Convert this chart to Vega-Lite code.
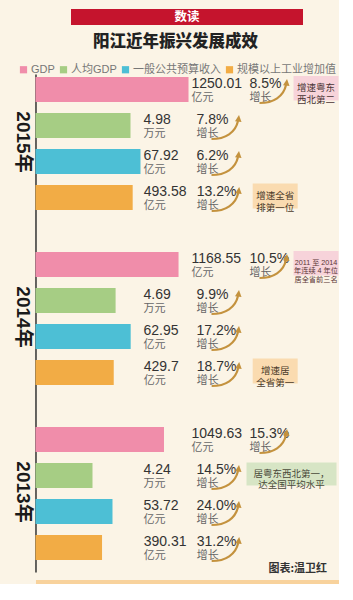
{
  "$schema": "https://vega.github.io/schema/vega-lite/v6.json",
  "background": "#FBF4E6",
  "padding": {"left": 12, "top": 9, "right": 0, "bottom": 0},
  "config": {"font": "Liberation Sans, Noto Sans CJK SC", "view": {"stroke": null}},
  "spacing": 8,
  "center": true,
  "vconcat": [
    {
      "width": 232,
      "height": 16,
      "view": {"fill": "#C5142D", "stroke": null},
      "data": {"values": [{"label": "数读"}]},
      "mark": {"type": "text", "color": "#FFFFFF", "fontSize": 12.5, "fontWeight": "bold", "font": "Noto Sans CJK SC"},
      "encoding": {"text": {"field": "label", "type": "nominal"}}
    },
    {
      "width": 303,
      "height": 498,
      "title": {"text": "阳江近年振兴发展成效", "fontSize": 16.5, "fontWeight": 900, "color": "#222222", "font": "Noto Sans CJK SC", "anchor": "middle", "frame": "bounds", "offset": 24},
      "data": {"values": [
        {"year": "2015年", "cat": "GDP", "value": 1250.01, "unit": "亿元", "pct": "8.5%", "note": "增速粤东\n西北第二"},
        {"year": "2015年", "cat": "人均GDP", "value": 4.98, "unit": "万元", "pct": "7.8%"},
        {"year": "2015年", "cat": "一般公共预算收入", "value": 67.92, "unit": "亿元", "pct": "6.2%"},
        {"year": "2015年", "cat": "规模以上工业增加值", "value": 493.58, "unit": "亿元", "pct": "13.2%", "note": "增速全省\n排第一位"},
        {"year": "2014年", "cat": "GDP", "value": 1168.55, "unit": "亿元", "pct": "10.5%", "note": "2011 至 2014\n年连续 4 年位\n居全省前三名"},
        {"year": "2014年", "cat": "人均GDP", "value": 4.69, "unit": "万元", "pct": "9.9%"},
        {"year": "2014年", "cat": "一般公共预算收入", "value": 62.95, "unit": "亿元", "pct": "17.2%"},
        {"year": "2014年", "cat": "规模以上工业增加值", "value": 429.7, "unit": "亿元", "pct": "18.7%", "note": "增速居\n全省第一"},
        {"year": "2013年", "cat": "GDP", "value": 1049.63, "unit": "亿元", "pct": "15.3%"},
        {"year": "2013年", "cat": "人均GDP", "value": 4.24, "unit": "万元", "pct": "14.5%", "note": "居粤东西北第一，\n达全国平均水平"},
        {"year": "2013年", "cat": "一般公共预算收入", "value": 53.72, "unit": "亿元", "pct": "24.0%"},
        {"year": "2013年", "cat": "规模以上工业增加值", "value": 390.31, "unit": "亿元", "pct": "31.2%"}
      ]},
      "transform": [{"joinaggregate": [{"op": "max", "field": "value", "as": "maxv"}], "groupby": ["cat"]}],
      "encoding": {
        "y": {"field": "year", "type": "nominal", "sort": ["2015年", "2014年", "2013年"],
              "scale": {"paddingInner": 0.177, "paddingOuter": 0.0114, "align": 0},
              "axis": {"title": null, "ticks": false, "grid": false, "labelAngle": 90, "labelAlign": "center", "labelBaseline": "top", "labelFontSize": 19, "labelFontWeight": "bold", "labelColor": "#1a1a1a", "labelPadding": 4, "labelOffset": -4, "domainColor": "#333333", "domainWidth": 1.5}},
        "yOffset": {"field": "cat", "type": "nominal", "sort": ["GDP", "人均GDP", "一般公共预算收入", "规模以上工业增加值"],
              "scale": {"paddingInner": 0.306, "paddingOuter": 0.153, "align": 0.273}}
      },
      "layer": [
        {
          "transform": [{"filter": "datum.cat === 'GDP'"}],
          "layer": [
            {"mark": {"type": "bar"},
             "encoding": {
               "x": {"field": "value", "type": "quantitative", "scale": {"domain": [0, 2475], "nice": false, "zero": true},
                     "axis": {"orient": "bottom", "labels": false, "ticks": false, "grid": false, "domain": true, "domainColor": "#F8D29C", "domainWidth": 9, "offset": 12, "title": "图表:温卫红", "titleFontSize": 11, "titleFontWeight": "bold", "titleColor": "#333333", "titleX": 291, "titleY": -13, "titleAlign": "right", "titleBaseline": "alphabetic", "titleFont": "Noto Sans CJK SC"}},
               "color": {"field": "cat", "type": "nominal", "scale": {"domain": ["GDP", "人均GDP", "一般公共预算收入", "规模以上工业增加值"], "range": ["#F08DAA", "#A6CD84", "#4DBFD5", "#F2AC45"]},
                         "legend": {"title": null, "orient": "none", "legendX": -17, "legendY": 55, "direction": "horizontal", "symbolType": "square", "symbolSize": 52, "symbolStrokeWidth": 0, "labelFontSize": 11, "labelColor": "#777777", "columnPadding": 3, "labelOffset": 2}}
             }},
            {"mark": {"type": "text", "align": "left", "baseline": "alphabetic", "dx": 3, "dy": -1.5, "fontSize": 14, "color": "#333333"},
             "encoding": {"x": {"field": "maxv", "type": "quantitative", "axis": {"orient": "bottom", "labels": false, "ticks": false, "grid": false, "domain": true, "domainColor": "#F8D29C", "domainWidth": 9, "offset": 12, "title": "图表:温卫红", "titleFontSize": 11, "titleFontWeight": "bold", "titleColor": "#333333", "titleX": 291, "titleY": -13, "titleAlign": "right", "titleBaseline": "alphabetic", "titleFont": "Noto Sans CJK SC"}}, "text": {"field": "value", "type": "nominal"}}},
            {"mark": {"type": "text", "align": "left", "baseline": "alphabetic", "dx": 3, "dy": 11.5, "fontSize": 11, "color": "#666666"},
             "encoding": {"x": {"field": "maxv", "type": "quantitative", "axis": {"orient": "bottom", "labels": false, "ticks": false, "grid": false, "domain": true, "domainColor": "#F8D29C", "domainWidth": 9, "offset": 12, "title": "图表:温卫红", "titleFontSize": 11, "titleFontWeight": "bold", "titleColor": "#333333", "titleX": 291, "titleY": -13, "titleAlign": "right", "titleBaseline": "alphabetic", "titleFont": "Noto Sans CJK SC"}}, "text": {"field": "unit", "type": "nominal"}}},
            {"mark": {"type": "text", "align": "left", "baseline": "alphabetic", "dx": 61, "dy": -1.5, "fontSize": 14, "color": "#333333"},
             "encoding": {"x": {"field": "maxv", "type": "quantitative", "axis": {"orient": "bottom", "labels": false, "ticks": false, "grid": false, "domain": true, "domainColor": "#F8D29C", "domainWidth": 9, "offset": 12, "title": "图表:温卫红", "titleFontSize": 11, "titleFontWeight": "bold", "titleColor": "#333333", "titleX": 291, "titleY": -13, "titleAlign": "right", "titleBaseline": "alphabetic", "titleFont": "Noto Sans CJK SC"}}, "text": {"field": "pct", "type": "nominal"}}},
            {"mark": {"type": "text", "align": "left", "baseline": "alphabetic", "dx": 61, "dy": 11.5, "fontSize": 11, "color": "#666666"},
             "encoding": {"x": {"field": "maxv", "type": "quantitative", "axis": {"orient": "bottom", "labels": false, "ticks": false, "grid": false, "domain": true, "domainColor": "#F8D29C", "domainWidth": 9, "offset": 12, "title": "图表:温卫红", "titleFontSize": 11, "titleFontWeight": "bold", "titleColor": "#333333", "titleX": 291, "titleY": -13, "titleAlign": "right", "titleBaseline": "alphabetic", "titleFont": "Noto Sans CJK SC"}}, "text": {"value": "增长"}}},
            {"mark": {"type": "point", "shape": "M 7.1 1.35 C 8.5 1.35 9.5 0.7 9.75 -0.45", "size": 400, "filled": false, "stroke": "#C4923E", "strokeWidth": 2.2, "opacity": 1},
             "encoding": {"x": {"field": "maxv", "type": "quantitative", "axis": {"orient": "bottom", "labels": false, "ticks": false, "grid": false, "domain": true, "domainColor": "#F8D29C", "domainWidth": 9, "offset": 12, "title": "图表:温卫红", "titleFontSize": 11, "titleFontWeight": "bold", "titleColor": "#333333", "titleX": 291, "titleY": -13, "titleAlign": "right", "titleBaseline": "alphabetic", "titleFont": "Noto Sans CJK SC"}}}},
            {"mark": {"type": "point", "shape": "M 9.85 -1.05 L 10.1 -0.35 L 9.45 -0.42 Z", "size": 400, "filled": true, "fill": "#C4923E", "strokeWidth": 0, "opacity": 1},
             "encoding": {"x": {"field": "maxv", "type": "quantitative", "axis": {"orient": "bottom", "labels": false, "ticks": false, "grid": false, "domain": true, "domainColor": "#F8D29C", "domainWidth": 9, "offset": 12, "title": "图表:温卫红", "titleFontSize": 11, "titleFontWeight": "bold", "titleColor": "#333333", "titleX": 291, "titleY": -13, "titleAlign": "right", "titleBaseline": "alphabetic", "titleFont": "Noto Sans CJK SC"}}}},
            {"transform": [{"filter": "datum.note != null"}],
             "mark": {"type": "point", "shape": "M 10.5 -1.35 H 15.0 V 1.1 H 10.5 Z", "size": 400, "filled": true, "fill": "#F7D3DA", "strokeWidth": 0, "opacity": 1},
             "encoding": {"x": {"field": "maxv", "type": "quantitative", "axis": {"orient": "bottom", "labels": false, "ticks": false, "grid": false, "domain": true, "domainColor": "#F8D29C", "domainWidth": 9, "offset": 12, "title": "图表:温卫红", "titleFontSize": 11, "titleFontWeight": "bold", "titleColor": "#333333", "titleX": 291, "titleY": -13, "titleAlign": "right", "titleBaseline": "alphabetic", "titleFont": "Noto Sans CJK SC"}}}},
            {"transform": [{"filter": "datum.year === '2015年'"}, {"filter": "datum.note != null"}],
             "mark": {"type": "text", "align": "center", "baseline": "middle", "dx": 127.5, "dy": -1.2, "fontSize": 9.5, "lineHeight": 11.5, "lineBreak": "\n", "color": "#4a3535"},
             "encoding": {"x": {"field": "maxv", "type": "quantitative", "axis": {"orient": "bottom", "labels": false, "ticks": false, "grid": false, "domain": true, "domainColor": "#F8D29C", "domainWidth": 9, "offset": 12, "title": "图表:温卫红", "titleFontSize": 11, "titleFontWeight": "bold", "titleColor": "#333333", "titleX": 291, "titleY": -13, "titleAlign": "right", "titleBaseline": "alphabetic", "titleFont": "Noto Sans CJK SC"}}, "text": {"field": "note", "type": "nominal"}}},
            {"transform": [{"filter": "datum.year === '2014年'"}, {"filter": "datum.note != null"}],
             "mark": {"type": "text", "align": "center", "baseline": "middle", "dx": 127.5, "dy": -1.2, "fontSize": 7.2, "lineHeight": 8.2, "lineBreak": "\n", "color": "#5a3535"},
             "encoding": {"x": {"field": "maxv", "type": "quantitative", "axis": {"orient": "bottom", "labels": false, "ticks": false, "grid": false, "domain": true, "domainColor": "#F8D29C", "domainWidth": 9, "offset": 12, "title": "图表:温卫红", "titleFontSize": 11, "titleFontWeight": "bold", "titleColor": "#333333", "titleX": 291, "titleY": -13, "titleAlign": "right", "titleBaseline": "alphabetic", "titleFont": "Noto Sans CJK SC"}}, "text": {"field": "note", "type": "nominal"}}}
          ]
        },
        {
          "transform": [{"filter": "datum.cat === '人均GDP'"}],
          "layer": [
            {"mark": {"type": "bar"},
             "encoding": {
               "x": {"field": "value", "type": "quantitative", "scale": {"domain": [3.13, 9.03], "nice": false, "zero": false, "clamp": true}, "axis": null},
               "color": {"field": "cat", "type": "nominal", "scale": {"domain": ["GDP", "人均GDP", "一般公共预算收入", "规模以上工业增加值"], "range": ["#F08DAA", "#A6CD84", "#4DBFD5", "#F2AC45"]},
                         "legend": {"title": null, "orient": "none", "legendX": -17, "legendY": 55, "direction": "horizontal", "symbolType": "square", "symbolSize": 52, "symbolStrokeWidth": 0, "labelFontSize": 11, "labelColor": "#777777", "columnPadding": 3, "labelOffset": 2}}
             }},
            {"mark": {"type": "text", "align": "left", "baseline": "alphabetic", "dx": 13, "dy": -1.5, "fontSize": 14, "color": "#333333"},
             "encoding": {"x": {"field": "maxv", "type": "quantitative", "axis": null}, "text": {"field": "value", "type": "nominal"}}},
            {"mark": {"type": "text", "align": "left", "baseline": "alphabetic", "dx": 13, "dy": 11.5, "fontSize": 11, "color": "#666666"},
             "encoding": {"x": {"field": "maxv", "type": "quantitative", "axis": null}, "text": {"field": "unit", "type": "nominal"}}},
            {"mark": {"type": "text", "align": "left", "baseline": "alphabetic", "dx": 66, "dy": -1.5, "fontSize": 14, "color": "#333333"},
             "encoding": {"x": {"field": "maxv", "type": "quantitative", "axis": null}, "text": {"field": "pct", "type": "nominal"}}},
            {"mark": {"type": "text", "align": "left", "baseline": "alphabetic", "dx": 66, "dy": 11.5, "fontSize": 11, "color": "#666666"},
             "encoding": {"x": {"field": "maxv", "type": "quantitative", "axis": null}, "text": {"value": "增长"}}},
            {"mark": {"type": "point", "shape": "M 8.1 1.35 C 9.5 1.35 10.5 0.7 10.75 -0.45", "size": 400, "filled": false, "stroke": "#C4923E", "strokeWidth": 2.2, "opacity": 1},
             "encoding": {"x": {"field": "maxv", "type": "quantitative", "axis": null}}},
            {"mark": {"type": "point", "shape": "M 10.85 -1.05 L 11.1 -0.35 L 10.45 -0.42 Z", "size": 400, "filled": true, "fill": "#C4923E", "strokeWidth": 0, "opacity": 1},
             "encoding": {"x": {"field": "maxv", "type": "quantitative", "axis": null}}},
            {"transform": [{"filter": "datum.note != null"}],
             "mark": {"type": "point", "shape": "M 11.6 -1.3 H 20.6 V 1.0 H 11.6 Z", "size": 400, "filled": true, "fill": "#D7E5C5", "strokeWidth": 0, "opacity": 1},
             "encoding": {"x": {"field": "maxv", "type": "quantitative", "axis": null}}},
            {"transform": [{"filter": "datum.note != null"}],
             "mark": {"type": "text", "align": "center", "baseline": "middle", "dx": 161, "dy": -1.5, "fontSize": 9.5, "lineHeight": 11, "lineBreak": "\n", "color": "#4a4a3a"},
             "encoding": {"x": {"field": "maxv", "type": "quantitative", "axis": null}, "text": {"field": "note", "type": "nominal"}}}
          ]
        },
        {
          "transform": [{"filter": "datum.cat === '一般公共预算收入'"}],
          "layer": [
            {"mark": {"type": "bar"},
             "encoding": {
               "x": {"field": "value", "type": "quantitative", "scale": {"domain": [14.67, 168.32], "nice": false, "zero": false, "clamp": true}, "axis": null},
               "color": {"field": "cat", "type": "nominal", "scale": {"domain": ["GDP", "人均GDP", "一般公共预算收入", "规模以上工业增加值"], "range": ["#F08DAA", "#A6CD84", "#4DBFD5", "#F2AC45"]},
                         "legend": {"title": null, "orient": "none", "legendX": -17, "legendY": 55, "direction": "horizontal", "symbolType": "square", "symbolSize": 52, "symbolStrokeWidth": 0, "labelFontSize": 11, "labelColor": "#777777", "columnPadding": 3, "labelOffset": 2}}
             }},
            {"mark": {"type": "text", "align": "left", "baseline": "alphabetic", "dx": 3, "dy": -1.5, "fontSize": 14, "color": "#333333"},
             "encoding": {"x": {"field": "maxv", "type": "quantitative", "axis": null}, "text": {"field": "value", "type": "nominal"}}},
            {"mark": {"type": "text", "align": "left", "baseline": "alphabetic", "dx": 3, "dy": 11.5, "fontSize": 11, "color": "#666666"},
             "encoding": {"x": {"field": "maxv", "type": "quantitative", "axis": null}, "text": {"field": "unit", "type": "nominal"}}},
            {"mark": {"type": "text", "align": "left", "baseline": "alphabetic", "dx": 56, "dy": -1.5, "fontSize": 14, "color": "#333333"},
             "encoding": {"x": {"field": "maxv", "type": "quantitative", "axis": null}, "text": {"field": "pct", "type": "nominal"}}},
            {"mark": {"type": "text", "align": "left", "baseline": "alphabetic", "dx": 56, "dy": 11.5, "fontSize": 11, "color": "#666666"},
             "encoding": {"x": {"field": "maxv", "type": "quantitative", "axis": null}, "text": {"value": "增长"}}},
            {"mark": {"type": "point", "shape": "M 7.1 1.35 C 8.5 1.35 9.5 0.7 9.75 -0.45", "size": 400, "filled": false, "stroke": "#C4923E", "strokeWidth": 2.2, "opacity": 1},
             "encoding": {"x": {"field": "maxv", "type": "quantitative", "axis": null}}},
            {"mark": {"type": "point", "shape": "M 9.85 -1.05 L 10.1 -0.35 L 9.45 -0.42 Z", "size": 400, "filled": true, "fill": "#C4923E", "strokeWidth": 0, "opacity": 1},
             "encoding": {"x": {"field": "maxv", "type": "quantitative", "axis": null}}}
          ]
        },
        {
          "transform": [{"filter": "datum.cat === '规模以上工业增加值'"}],
          "layer": [
            {"mark": {"type": "bar"},
             "encoding": {
               "x": {"field": "value", "type": "quantitative", "scale": {"domain": [165.97, 1187.2], "nice": false, "zero": false, "clamp": true}, "axis": null},
               "color": {"field": "cat", "type": "nominal", "scale": {"domain": ["GDP", "人均GDP", "一般公共预算收入", "规模以上工业增加值"], "range": ["#F08DAA", "#A6CD84", "#4DBFD5", "#F2AC45"]},
                         "legend": {"title": null, "orient": "none", "legendX": -17, "legendY": 55, "direction": "horizontal", "symbolType": "square", "symbolSize": 52, "symbolStrokeWidth": 0, "labelFontSize": 11, "labelColor": "#777777", "columnPadding": 3, "labelOffset": 2}}
             }},
            {"mark": {"type": "text", "align": "left", "baseline": "alphabetic", "dx": 11, "dy": -1.5, "fontSize": 14, "color": "#333333"},
             "encoding": {"x": {"field": "maxv", "type": "quantitative", "axis": null}, "text": {"field": "value", "type": "nominal"}}},
            {"mark": {"type": "text", "align": "left", "baseline": "alphabetic", "dx": 11, "dy": 11.5, "fontSize": 11, "color": "#666666"},
             "encoding": {"x": {"field": "maxv", "type": "quantitative", "axis": null}, "text": {"field": "unit", "type": "nominal"}}},
            {"mark": {"type": "text", "align": "left", "baseline": "alphabetic", "dx": 64, "dy": -1.5, "fontSize": 14, "color": "#333333"},
             "encoding": {"x": {"field": "maxv", "type": "quantitative", "axis": null}, "text": {"field": "pct", "type": "nominal"}}},
            {"mark": {"type": "text", "align": "left", "baseline": "alphabetic", "dx": 64, "dy": 11.5, "fontSize": 11, "color": "#666666"},
             "encoding": {"x": {"field": "maxv", "type": "quantitative", "axis": null}, "text": {"value": "增长"}}},
            {"mark": {"type": "point", "shape": "M 7.9 1.35 C 9.3 1.35 10.3 0.7 10.55 -0.45", "size": 400, "filled": false, "stroke": "#C4923E", "strokeWidth": 2.2, "opacity": 1},
             "encoding": {"x": {"field": "maxv", "type": "quantitative", "axis": null}}},
            {"mark": {"type": "point", "shape": "M 10.65 -1.05 L 10.9 -0.35 L 10.25 -0.42 Z", "size": 400, "filled": true, "fill": "#C4923E", "strokeWidth": 0, "opacity": 1},
             "encoding": {"x": {"field": "maxv", "type": "quantitative", "axis": null}}},
            {"transform": [{"filter": "datum.note != null"}],
             "mark": {"type": "point", "shape": "M 12.0 -1.4 H 16.5 V 1.1 H 12.0 Z", "size": 400, "filled": true, "fill": "#FADBB0", "strokeWidth": 0, "opacity": 1},
             "encoding": {"x": {"field": "maxv", "type": "quantitative", "axis": null}}},
            {"transform": [{"filter": "datum.note != null"}],
             "mark": {"type": "text", "align": "center", "baseline": "middle", "dx": 142.5, "dy": -1.5, "fontSize": 9.5, "lineHeight": 11.5, "lineBreak": "\n", "color": "#4a3a2a"},
             "encoding": {"x": {"field": "maxv", "type": "quantitative", "axis": null}, "text": {"field": "note", "type": "nominal"}}}
          ]
        }
      ],
      "resolve": {"scale": {"x": "independent"}, "axis": {"x": "independent"}}
    }
  ]
}
